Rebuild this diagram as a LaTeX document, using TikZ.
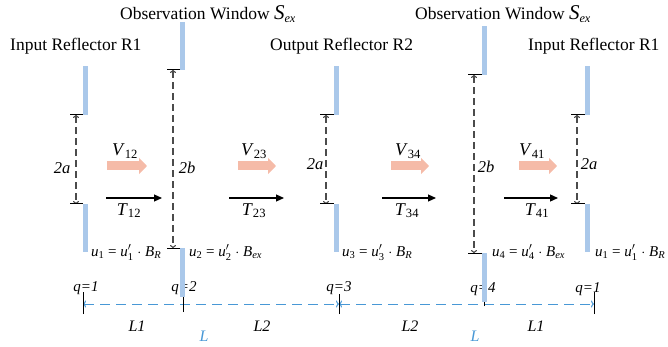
\documentclass[tikz,border=0pt]{standalone}
\usepackage{amsmath}
\usepackage{fontspec}
\setmainfont{Liberation Serif}
\usetikzlibrary{arrows.meta}
\definecolor{barblue}{RGB}{170,200,234}
\definecolor{pinkc}{RGB}{245,187,168}
\definecolor{dimblue}{RGB}{72,152,214}
\definecolor{dimgray}{RGB}{75,75,75}
\newcommand\sbi[1]{\ensuremath{_{\text{#1}}}}
\newcommand\sbit[1]{\ensuremath{_{\textit{#1}}}}
\newcommand\ulabel[3]{\textit{u}\sbi{#1} = \textit{u}\ensuremath{'_{\text{#1}}} \ensuremath{\cdot} \textit{B}\sbit{#2}}
\newcommand\Sex{{\fontsize{21}{20}\selectfont\textit{S}}\sbit{ex}}
\tikzset{
  bar/.style={fill=barblue, draw=none, inner sep=0pt, outer sep=0pt, minimum width=5pt},
  dimv/.style={draw=dimgray, line width=1.1pt, dash pattern=on 7pt off 4pt,
    {To[length=3pt,width=6pt]}-{To[length=3pt,width=6pt]}},
  tickl/.style={draw=black, line width=1pt},
  tarrow/.style={draw=black, line width=1.2pt, -{Triangle[length=8pt,width=7pt]}},
  varrow/.style={draw=pinkc, line width=9pt, -{Triangle[length=8pt,width=16pt]}},
  bluedim/.style={draw=dimblue, line width=1pt, dash pattern=on 10pt off 6pt,
    {To[length=3pt,width=7pt]}-{To[length=3pt,width=7pt]}},
  hdr/.style={font=\fontsize{17.5}{20}\selectfont, inner sep=0pt, anchor=base west},
  vlab/.style={font=\fontsize{18}{20}\selectfont, inner sep=0pt, anchor=base},
  dlab/.style={font=\fontsize{16.5}{18}\selectfont\itshape, inner sep=0pt, anchor=base},
  ulab/.style={font=\fontsize{15}{17}\selectfont, inner sep=0pt, anchor=base west},
  qlab/.style={font=\fontsize{15}{17}\selectfont\itshape, inner sep=0pt, anchor=base},
  llab/.style={font=\fontsize{16}{18}\selectfont\itshape, inner sep=0pt, anchor=base},
}
\begin{document}
\begin{tikzpicture}[x=1pt,y=-1pt]
\useasboundingbox (0,0) rectangle (668,347);

% headers
\node[hdr] (h1) at (10,51) {Input Reflector R1};
\node[hdr] (h2) at (120,20) {Observation Window \Sex};
\node[hdr] (h3) at (270,51) {Output Reflector R2};
\node[hdr] (h4) at (415,20) {Observation Window \Sex};
\node[hdr] (h5) at (528,51) {Input Reflector R1};

% V arrows
\coordinate (v1s) at (107,166); \coordinate (v1e) at (147,166);
\coordinate (v2s) at (238,166); \coordinate (v2e) at (276,166);
\coordinate (v3s) at (391,166); \coordinate (v3e) at (429,166);
\coordinate (v4s) at (519,166); \coordinate (v4e) at (557,166);
\draw[varrow] (v1s) -- (v1e);
\draw[varrow] (v2s) -- (v2e);
\draw[varrow] (v3s) -- (v3e);
\draw[varrow] (v4s) -- (v4e);
\node[vlab] (V12) at (125,156) {\textit{V}\sbi{12}};
\node[vlab] (V23) at (254,156) {\textit{V}\sbi{23}};
\node[vlab] (V34) at (408,156) {\textit{V}\sbi{34}};
\node[vlab] (V41) at (532,156) {\textit{V}\sbi{41}};

% T arrows
\coordinate (t1s) at (106,198); \coordinate (t1e) at (162,198);
\coordinate (t2s) at (229,198); \coordinate (t2e) at (284,198);
\coordinate (t3s) at (382,198); \coordinate (t3e) at (436,198);
\coordinate (t4s) at (504,198); \coordinate (t4e) at (558,198);
\draw[tarrow] (t1s) -- (t1e);
\draw[tarrow] (t2s) -- (t2e);
\draw[tarrow] (t3s) -- (t3e);
\draw[tarrow] (t4s) -- (t4e);
\node[vlab] (T12) at (129,215) {\textit{T}\sbi{12}};
\node[vlab] (T23) at (254,215) {\textit{T}\sbi{23}};
\node[vlab] (T34) at (407,215) {\textit{T}\sbi{34}};
\node[vlab] (T41) at (537,215) {\textit{T}\sbi{41}};

% u labels
\node[ulab] (u1) at (91,256) {\ulabel{1}{R}{}};
\node[ulab] (u2) at (189,256) {\ulabel{2}{ex}{}};
\node[ulab] (u3) at (342,256) {\ulabel{3}{R}{}};
\node[ulab] (u4) at (492,256) {\ulabel{4}{ex}{}};
\node[ulab] (u5) at (595,256) {\ulabel{1}{R}{}};

% q labels
\node[qlab] (q1) at (86,291) {q=1};
\node[qlab] (q2) at (184,291) {q=2};
\node[qlab] (q3) at (339,291) {q=3};
\node[qlab] (q4) at (483,292) {q=4};
\node[qlab] (q5) at (588,292) {q=1};

% L labels
\node[llab] (L1a) at (137,331) {L1};
\node[llab] (L2a) at (262,331) {L2};
\node[llab] (L2b) at (410,331) {L2};
\node[llab] (L1b) at (536,331) {L1};
\node[llab, text=dimblue] (La) at (204,341) {L};
\node[llab, text=dimblue] (Lb) at (475,341) {L};

% blue dimension line
\coordinate (p1) at (83,304); \coordinate (p2) at (183,304);
\coordinate (p3) at (339,304); \coordinate (p4) at (484.5,304);
\coordinate (p5) at (594,304);
\draw[bluedim] (p1) -- (p3);
\draw[bluedim] (p3) -- (p5);
\draw[tickl] ([yshift=-10pt]p1) -- ([yshift=12pt]p1);
\draw[tickl] ([yshift=-8pt]p2) -- ([yshift=14pt]p2);
\draw[tickl] ([yshift=-10pt]p3) -- ([yshift=10pt]p3);
\draw[tickl] ([yshift=-2pt]p4) -- ([yshift=16pt]p4);
\draw[tickl] ([yshift=-10pt]p5) -- ([yshift=12pt]p5);

% bars
\node[bar, minimum height=49pt] (r1t) at (85.5,90.5) {};
\node[bar, minimum height=48pt] (r1b) at (85.5,228) {};
\node[bar, minimum height=48pt] (o1t) at (182.5,46) {};
\node[bar, minimum height=49pt] (o1b) at (182.5,272.5) {};
\node[bar, minimum height=49pt] (r2t) at (336.5,90.5) {};
\node[bar, minimum height=48pt] (r2b) at (336.5,228) {};
\node[bar, minimum height=49pt] (o2t) at (484.5,50.5) {};
\node[bar, minimum height=49pt] (o2b) at (484.5,277.5) {};
\node[bar, minimum height=49pt] (r3t) at (587.5,90.5) {};
\node[bar, minimum height=48pt] (r3b) at (587.5,228) {};

% vertical dimensions with ticks
\foreach \t/\b/\s in {r1t/r1b/-9.5, o1t/o1b/-9.5, r2t/r2b/-10.5, o2t/o2b/-10.5, r3t/r3b/-10.5}{
  \draw[dimv] ([xshift=\s pt]\t.south) -- ([xshift=\s pt]\b.north);
  \draw[tickl] ([xshift=\s pt - 6pt]\t.south) -- (\t.south west);
  \draw[tickl] ([xshift=\s pt - 6pt]\b.north) -- (\b.north west);
}
\node[dlab] (a1) at (62,174) {2a};
\node[dlab] (b1) at (187,174) {2b};
\node[dlab] (a2) at (315,170) {2a};
\node[dlab] (b2) at (486,173) {2b};
\node[dlab] (a3) at (589,170) {2a};
\end{tikzpicture}
\end{document}
